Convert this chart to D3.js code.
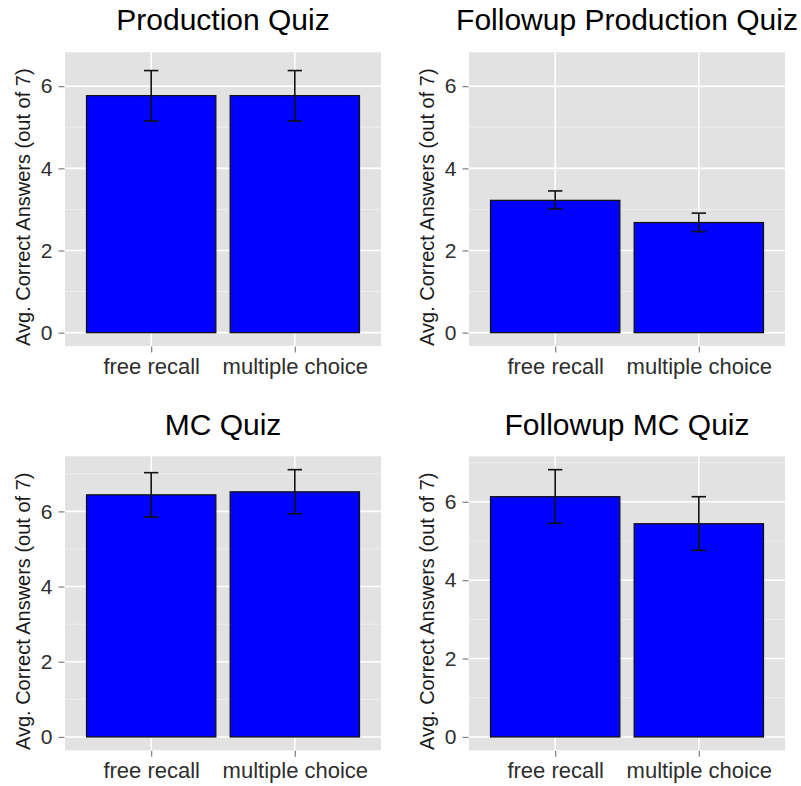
<!DOCTYPE html>
<html>
<head>
<meta charset="utf-8">
<script src="https://cdn.jsdelivr.net/npm/d3@7"></script>
<style>
  html, body { margin: 0; padding: 0; background: #ffffff; }
  svg { display: block; }
  text { font-family: "Liberation Sans", Arial, Helvetica, sans-serif; }
</style>
</head>
<body>
<svg id="chart" width="801" height="786"></svg>
<script>
// ---- data ----
const categories = ["free recall", "multiple choice"];
const panelTitles = ["Production Quiz", "Followup Production Quiz", "MC Quiz", "Followup MC Quiz"];
const yAxisTitle = "Avg. Correct Answers (out of 7)";
const means   = [[5.77, 5.77], [3.22, 2.68], [6.44, 6.52], [6.13, 5.44]];
const errLow  = [[5.15, 5.15], [3.01, 2.46], [5.85, 5.94], [5.45, 4.76]];
const errHigh = [[6.38, 6.38], [3.45, 2.91], [7.03, 7.11], [6.82, 6.13]];
const yLimitMax = [6.5, 6.5, null, null]; // null = from data
const yTicks = [0, 2, 4, 6];
const yMinorTicks = [1, 3, 5, 7];

// ---- layout ----
const panels = [
  { x0: 65,  x1: 381, y0: 52.3,  y1: 346,   titleY: 30 },
  { x0: 469, x1: 785, y0: 52.3,  y1: 346,   titleY: 30 },
  { x0: 65,  x1: 381, y0: 456.3, y1: 750.3, titleY: 434.5 },
  { x0: 469, x1: 785, y0: 456.3, y1: 750.3, titleY: 434.5 }
];

const svg = d3.select("#chart");

panels.forEach((p, i) => {
  const g = svg.append("g");
  const hi = yLimitMax[i] != null ? yLimitMax[i] : d3.max(errHigh[i]);
  const W = hi - 0;
  const y = d3.scaleLinear().domain([0 - 0.05 * W, hi + 0.05 * W]).range([p.y1, p.y0]);
  const x = d3.scalePoint().domain(categories).range([p.x0, p.x1]).padding(0.6);
  const step = x.step();

  // panel background
  g.append("rect").attr("x", p.x0).attr("y", p.y0)
    .attr("width", p.x1 - p.x0).attr("height", p.y1 - p.y0)
    .attr("fill", "#e2e2e2");

  // minor grid
  g.selectAll(".minor").data(yMinorTicks.filter(v => y(v) >= p.y0 && y(v) <= p.y1)).join("line")
    .attr("x1", p.x0).attr("x2", p.x1)
    .attr("y1", d => y(d)).attr("y2", d => y(d))
    .attr("stroke", "#eeeeee").attr("stroke-width", 1);

  // major grid
  g.selectAll(".major").data(yTicks).join("line")
    .attr("x1", p.x0).attr("x2", p.x1)
    .attr("y1", d => y(d)).attr("y2", d => y(d))
    .attr("stroke", "#ffffff").attr("stroke-width", 1.6);
  g.selectAll(".vmajor").data(categories).join("line")
    .attr("x1", d => x(d)).attr("x2", d => x(d))
    .attr("y1", p.y0).attr("y2", p.y1)
    .attr("stroke", "#ffffff").attr("stroke-width", 1.6);

  // bars
  const rows = categories.map((c, j) => ({ c, m: means[i][j], lo: errLow[i][j], hi: errHigh[i][j] }));
  const bw = 0.9 * step;
  g.selectAll(".bar").data(rows).join("rect")
    .attr("x", d => x(d.c) - bw / 2)
    .attr("width", bw)
    .attr("y", d => y(d.m))
    .attr("height", d => y(0) - y(d.m))
    .attr("fill", "#0000ff")
    .attr("stroke", "#111111").attr("stroke-width", 1.3);

  // error bars
  const ew = 0.1 * step;
  const eb = g.selectAll(".err").data(rows).join("g").attr("stroke", "#111111").attr("stroke-width", 1.6);
  eb.append("line").attr("x1", d => x(d.c)).attr("x2", d => x(d.c))
    .attr("y1", d => y(d.lo)).attr("y2", d => y(d.hi));
  eb.append("line").attr("x1", d => x(d.c) - ew / 2).attr("x2", d => x(d.c) + ew / 2)
    .attr("y1", d => y(d.lo)).attr("y2", d => y(d.lo));
  eb.append("line").attr("x1", d => x(d.c) - ew / 2).attr("x2", d => x(d.c) + ew / 2)
    .attr("y1", d => y(d.hi)).attr("y2", d => y(d.hi));

  // y axis
  const ya = g.append("g").attr("transform", `translate(${p.x0 - 0.5},0)`)
    .call(d3.axisLeft(y).tickValues(yTicks).tickSize(6).tickPadding(6).tickFormat(d3.format("d")));
  ya.select(".domain").remove();
  ya.selectAll(".tick line").attr("stroke", "#808080").attr("stroke-width", 1.2);
  ya.selectAll(".tick text").attr("fill", "#2e2e2e").style("font-size", "21px");

  // x axis
  const xa = g.append("g").attr("transform", `translate(0,${p.y1 + 0.5})`)
    .call(d3.axisBottom(x).tickSize(6).tickPadding(6));
  xa.select(".domain").remove();
  xa.selectAll(".tick line").attr("stroke", "#808080").attr("stroke-width", 1.2);
  xa.selectAll(".tick text").attr("fill", "#2e2e2e").style("font-size", "22px");

  // y title
  g.append("text")
    .attr("transform", `translate(${p.x0 - 35},${(p.y0 + p.y1) / 2 + 8}) rotate(-90)`)
    .attr("text-anchor", "middle")
    .attr("fill", "#1a1a1a")
    .style("font-size", "20px")
    .text(yAxisTitle);

  // panel title
  g.append("text")
    .attr("x", (p.x0 + p.x1) / 2).attr("y", p.titleY)
    .attr("text-anchor", "middle")
    .attr("fill", "#000000")
    .style("font-size", "30px")
    .text(panelTitles[i]);
});
</script>
</body>
</html>
